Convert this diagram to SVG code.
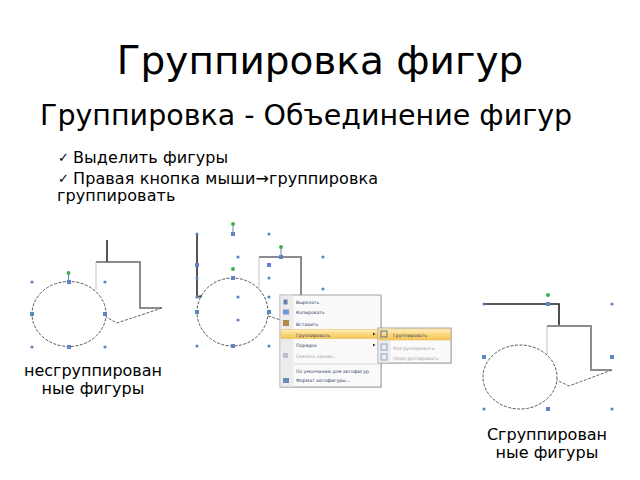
<svg xmlns="http://www.w3.org/2000/svg" width="640" height="480" viewBox="0 0 640 480">
<defs>
<linearGradient id="hl" x1="0" y1="0" x2="0" y2="1">
<stop offset="0" stop-color="#fef0c0"/>
<stop offset="0.5" stop-color="#fbd77c"/>
<stop offset="1" stop-color="#f6c35a"/>
</linearGradient>
<g id="hc"><circle r="1.6" fill="#5b86c6"/></g>
<g id="hs"><rect x="-2" y="-2" width="4" height="4" fill="#5b86c6"/></g>
<g id="hg"><circle r="2" fill="#3fb04b"/></g>
</defs>
<style>
text{font-family:"DejaVu Sans","Liberation Sans",sans-serif;fill:#000}
.ttl{font-size:39px}
.sub{font-size:28.5px}
.bul{font-size:16px}
.lbl{font-size:16px;text-anchor:middle}
.chk{font-size:13px}
.ell{fill:none;stroke:#555;stroke-width:1;stroke-dasharray:3 1.5}
.box{fill:none;stroke:#8c8c8c;stroke-width:2}
.lite{fill:none;stroke:#cfcfcf;stroke-width:1.2}
.ptr{fill:none;stroke:#666;stroke-width:1;stroke-dasharray:3 1.5}
.dark{fill:none;stroke:#555;stroke-width:2}
.blk{fill:none;stroke:#222;stroke-width:1.6}
.stem{stroke:#5b86c6;stroke-width:1}
.mi{font-size:4.6px;fill:#2a3a5a}
.md{font-size:4.6px;fill:#a0a0a0}
</style>
<rect width="640" height="480" fill="#fff"/>

<g id="title"><text class="ttl" x="320" y="74" text-anchor="middle">Группировка фигур</text></g>
<g id="subtitle"><text class="sub" x="40" y="125">Группировка - Объединение фигур</text></g>
<g id="bullets">
<text class="chk" x="58" y="162">✓</text>
<text class="bul" x="73" y="163" letter-spacing="0.1">Выделить фигуры</text>
<text class="chk" x="58" y="183">✓</text>
<text class="bul" x="73" y="184" letter-spacing="0.1">Правая кнопка мыши→группировка</text>
<text class="bul" x="57" y="201" letter-spacing="0.1">группировать</text>
</g>

<g id="ungrouped">
<path class="lite" d="M96,290 L96,262"/>
<path class="box" d="M96,262 L140,262 L140,308 L162,308"/>
<path class="ptr" d="M162,308 L117,323 L106,317"/>
<path class="dark" d="M107,240 L107,262"/>
<ellipse class="ell" cx="69" cy="314" rx="37" ry="32.5"/>
<line class="stem" x1="68.5" y1="273" x2="68.5" y2="282"/>
<use href="#hg" x="68.5" y="273"/>
<use href="#hc" x="32" y="282"/><use href="#hs" x="69" y="282"/><use href="#hc" x="105" y="282"/>
<use href="#hs" x="32" y="314"/><use href="#hs" x="105" y="314"/>
<use href="#hc" x="32" y="347"/><use href="#hs" x="69" y="347"/><use href="#hc" x="105" y="347"/>
</g>

<g id="selected">
<path class="dark" d="M197,234 L197,297 L202,296"/>
<path class="lite" d="M259,290 L259,257"/>
<path class="box" d="M259,257 L301,257 L301,296"/>
<path class="ptr" d="M268,316 L281,320"/>
<ellipse class="ell" cx="232.5" cy="312" rx="35.5" ry="34"/>
<line class="stem" x1="233" y1="224" x2="233" y2="234"/>
<use href="#hg" x="233" y="224"/>
<line class="stem" x1="281" y1="247" x2="281" y2="257"/>
<use href="#hg" x="281" y="247"/>
<use href="#hg" x="233" y="269"/>
<use href="#hc" x="197" y="234"/><use href="#hs" x="233" y="234"/><use href="#hc" x="269" y="234"/>
<use href="#hs" x="197" y="265"/><use href="#hc" x="197" y="278"/><use href="#hc" x="197" y="297"/><use href="#hs" x="197" y="312"/><use href="#hc" x="197" y="346"/>
<use href="#hs" x="233" y="278"/><use href="#hs" x="233" y="346"/>
<use href="#hc" x="238" y="257"/><use href="#hc" x="238" y="297"/><use href="#hc" x="238" y="320"/>
<use href="#hs" x="269" y="265"/><use href="#hc" x="269" y="278"/><use href="#hc" x="269" y="297"/><use href="#hs" x="269" y="312"/><use href="#hc" x="269" y="346"/>
<use href="#hs" x="281" y="257"/><use href="#hc" x="323" y="257"/><use href="#hc" x="323" y="289"/>
</g>

<g id="context-menu">
<rect x="281" y="296" width="101" height="92" fill="#c8c8c8" opacity="0.6"/>
<rect x="280" y="295" width="101" height="92" fill="#fafafa" stroke="#8a8a8a" stroke-width="0.8"/>
<rect x="280.5" y="295.5" width="13" height="91" fill="#ececec"/>
<rect x="281" y="329.5" width="99.5" height="9" fill="url(#hl)" stroke="#e3b54a" stroke-width="0.5"/>
<line x1="294" y1="364" x2="380" y2="364" stroke="#c8c8c8" stroke-width="0.7"/>
<rect x="283.5" y="299.5" width="4" height="5" fill="#6a7fa8"/>
<rect x="283" y="309.5" width="6" height="5" fill="#6c9ad0"/>
<rect x="283" y="320" width="6" height="6" fill="#b08a4a"/>
<rect x="283" y="353" width="5" height="5" fill="#b8c0cc"/>
<rect x="283" y="378" width="6" height="5" fill="#6c8ab8"/>
<text class="mi" x="296" y="304">Вырезать</text>
<text class="mi" x="296" y="314">Копировать</text>
<text class="mi" x="296" y="326">Вставить</text>
<text class="mi" x="296" y="336.5">Группировать</text>
<text class="mi" x="296" y="347">Порядок</text>
<text class="md" x="296" y="358">Связать заново...</text>
<text class="mi" x="296" y="373">По умолчанию для автофигур</text>
<text class="mi" x="296" y="382">Формат автофигуры...</text>
<path d="M373,332.5 L375.5,334 L373,335.5 Z" fill="#333"/>
<path d="M373,343.5 L375.5,345 L373,346.5 Z" fill="#333"/>
</g>

<g id="submenu">
<rect x="379" y="329" width="72" height="34" fill="#c8c8c8" opacity="0.5" transform="translate(1,1)"/>
<rect x="378" y="328" width="73" height="35" fill="#fafafa" stroke="#8a8a8a" stroke-width="0.8"/>
<rect x="378.5" y="328.5" width="12" height="34" fill="#ececec"/>
<rect x="379" y="329" width="71.5" height="11" fill="url(#hl)" stroke="#e3b54a" stroke-width="0.5"/>
<rect x="381" y="331" width="6" height="6" fill="none" stroke="#3a5a8a" stroke-width="0.8"/>
<rect x="381" y="344" width="6" height="6" fill="none" stroke="#7a94c0" stroke-width="0.8"/>
<rect x="381" y="354" width="6" height="6" fill="none" stroke="#7a94c0" stroke-width="0.8"/>
<text class="mi" x="393" y="336.5">Группировать</text>
<text class="md" x="393" y="349.5">Разгруппировать</text>
<text class="md" x="393" y="359.5">Перегруппировать</text>
</g>

<g id="grouped">
<path class="blk" d="M484,304 L559,304 L559,326"/>
<path class="lite" d="M547,355 L547,326"/>
<path class="box" d="M547,326 L591,326 L591,370 L612,370"/>
<path class="ptr" d="M612,370 L569,386 L557,380"/>
<ellipse class="ell" cx="520" cy="377" rx="37" ry="32"/>
<use href="#hg" x="548" y="295"/>
<use href="#hc" x="484" y="304"/><use href="#hs" x="548" y="304"/><use href="#hc" x="612" y="304"/>
<use href="#hs" x="484" y="357"/><use href="#hs" x="612" y="357"/>
<use href="#hc" x="484" y="409"/><use href="#hs" x="548" y="409"/><use href="#hc" x="612" y="409"/>
</g>

<g id="labels">
<text class="lbl" x="93" y="376">несгруппирован</text>
<text class="lbl" x="93" y="394">ные фигуры</text>
<text class="lbl" x="547" y="440">Сгруппирован</text>
<text class="lbl" x="547" y="458">ные фигуры</text>
</g>
</svg>
